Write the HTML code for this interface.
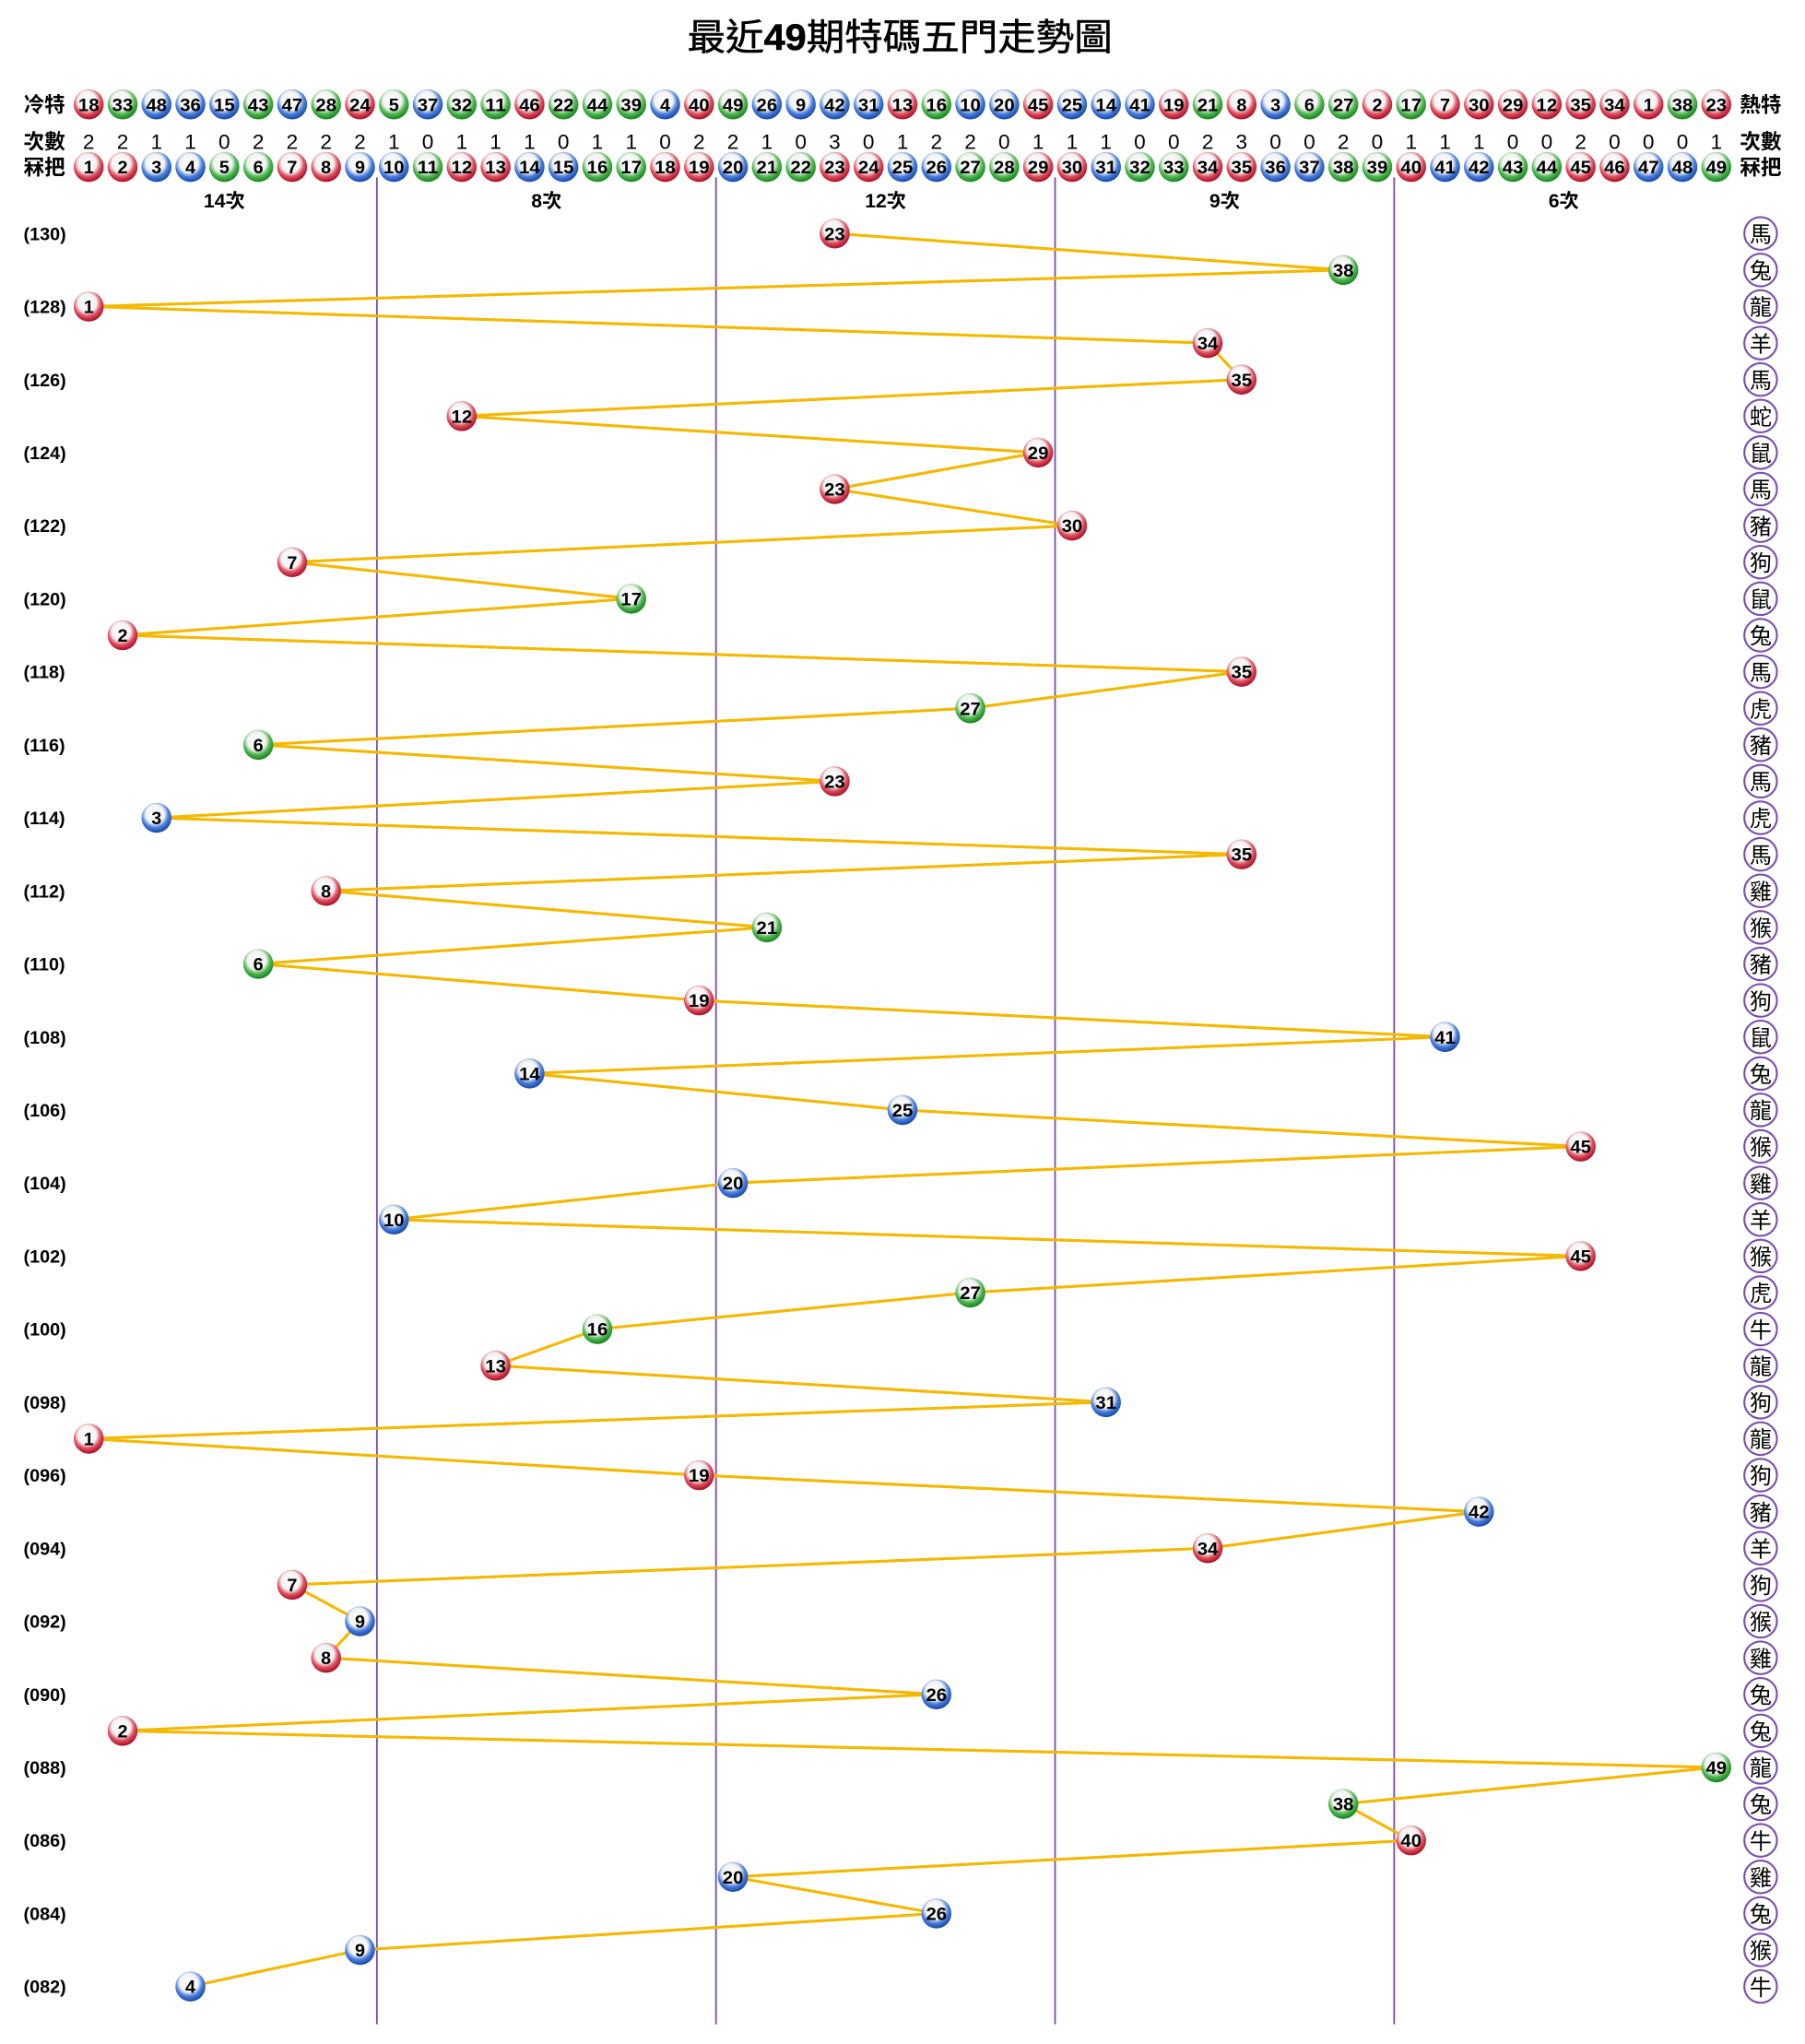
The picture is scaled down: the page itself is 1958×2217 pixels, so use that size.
<!DOCTYPE html>
<html><head><meta charset="utf-8"><style>
html,body{margin:0;padding:0;background:#fff;}
svg{display:block;}
</style></head><body>
<svg id="s" xmlns="http://www.w3.org/2000/svg" width="1958" height="2217" viewBox="0 0 1384 1567.1">
<defs>
<radialGradient id="gr" cx="45%" cy="38%" r="62%"><stop offset="0" stop-color="#fff"/><stop offset="0.5" stop-color="#f2f2f2"/><stop offset="0.72" stop-color="#e05060"/><stop offset="1" stop-color="#a80c24"/></radialGradient>
<radialGradient id="gb" cx="45%" cy="38%" r="62%"><stop offset="0" stop-color="#fff"/><stop offset="0.5" stop-color="#f2f2f2"/><stop offset="0.72" stop-color="#4a80dc"/><stop offset="1" stop-color="#1646a8"/></radialGradient>
<radialGradient id="gg" cx="45%" cy="38%" r="62%"><stop offset="0" stop-color="#fff"/><stop offset="0.5" stop-color="#f2f2f2"/><stop offset="0.72" stop-color="#50b850"/><stop offset="1" stop-color="#16821e"/></radialGradient>
</defs>
</svg>
<script>
var s=document.getElementById('s'),out='';
var red=[1,2,7,8,12,13,18,19,23,24,29,30,34,35,40,45,46],blue=[3,4,9,10,14,15,20,25,26,31,36,37,41,42,47,48];
function col(n){return red.indexOf(n)>=0?'gr':(blue.indexOf(n)>=0?'gb':'gg');}
function X(i){return 68+(i-1)*26;}
var F='font-family="Liberation Sans, Noto Sans CJK TC, sans-serif"';
function ball(x,y,n){
 out+='<circle cx="'+x+'" cy="'+y+'" r="11.5" fill="url(#'+col(n)+')"/>';
 out+='<text x="'+x+'" y="'+(y+5)+'" text-anchor="middle" font-size="14" font-weight="bold" '+F+(n>9?' textLength="16" lengthAdjust="spacingAndGlyphs"':'')+'>'+n+'</text>';
}
function txt(x,y,t,sz,extra){out+='<text x="'+x+'" y="'+y+'" font-size="'+sz+'" '+F+' '+(extra||'')+'>'+t+'</text>';}
txt(690,38,'最近<tspan font-weight="bold">49</tspan>期特碼五門走勢圖',28,'text-anchor="middle" textLength="326" lengthAdjust="spacingAndGlyphs" stroke="#000" stroke-width="0.4"');
var cold=[18,33,48,36,15,43,47,28,24,5,37,32,11,46,22,44,39,4,40,49,26,9,42,31,13,16,10,20,45,25,14,41,19,21,8,3,6,27,2,17,7,30,29,12,35,34,1,38,23];
var cnt=[2,2,1,1,0,2,2,2,2,1,0,1,1,1,0,1,1,0,2,2,1,0,3,0,1,2,2,0,1,1,1,0,0,2,3,0,0,2,0,1,1,1,0,0,2,0,0,0,1];
txt(18,86,'冷特',16,'font-weight="bold"');txt(18,114,'次數',16,'font-weight="bold"');txt(18,134,'冧把',16,'font-weight="bold"');
txt(1334,86,'熱特',16,'font-weight="bold"');txt(1334,114,'次數',16,'font-weight="bold"');txt(1334,134,'冧把',16,'font-weight="bold"');
[289,549,809,1069].forEach(function(x){out+='<line x1="'+x+'" y1="136" x2="'+x+'" y2="1552" stroke="#7a4fb0" stroke-width="1.3"/>';});
for(var i=1;i<=49;i++){
 ball(X(i),80,cold[i-1]);
 txt(X(i),114,cnt[i-1],16,'text-anchor="middle"');
 ball(X(i),128,i);
}
[['14次',172],['8次',419],['12次',679],['9次',939],['6次',1199]].forEach(function(a){txt(a[1],159,a[0],15,'text-anchor="middle" font-weight="bold"');});
var data=[23,38,1,34,35,12,29,23,30,7,17,2,35,27,6,23,3,35,8,21,6,19,41,14,25,45,20,10,45,27,16,13,31,1,19,42,34,7,9,8,26,2,49,38,40,20,26,9,4];
var zod='馬兔龍羊馬蛇鼠馬豬狗鼠兔馬虎豬馬虎馬雞猴豬狗鼠兔龍猴雞羊猴虎牛龍狗龍狗豬羊狗猴雞兔兔龍兔牛雞兔猴牛';
var pts=[];
for(var k=0;k<49;k++){
 var y=179+k*28,p=130-k;
 pts.push(X(data[k])+','+y);
 if(k%2==0) txt(18,y+5,'('+('00'+p).slice(-3)+')',14,'font-weight="bold"');
 out+='<circle cx="1350" cy="'+y+'" r="12.5" fill="#fff" stroke="#7a4fb0" stroke-width="1.5"/>';
 txt(1350,y+6.5,zod[k],17,'text-anchor="middle"');
}
out+='<polyline points="'+pts.join(' ')+'" fill="none" stroke="#f5b800" stroke-width="2.2"/>';
for(var k=0;k<49;k++) ball(X(data[k]),179+k*28,data[k]);
s.innerHTML+=out;
</script>
</body></html>
